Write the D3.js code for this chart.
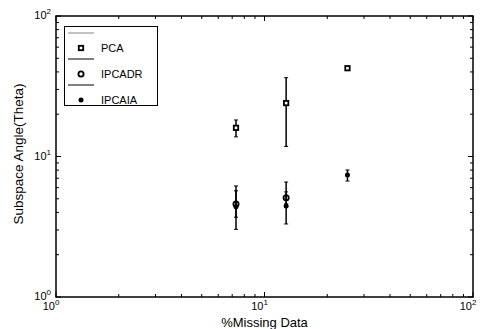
<!DOCTYPE html>
<html>
<head>
<meta charset="utf-8">
<script src="https://cdn.jsdelivr.net/npm/d3@7"></script>
<style>
body { margin: 0; background: #fff; }
text { font-family: "Liberation Sans", Arial, sans-serif; fill: #000; }
</style>
</head>
<body>
<div id="app"></div>
<script>
// data
let missing = [7.3, 12.7, 25];
let pcaMean = [16.0, 24.0, 42.5];
let pcaLow = [13.8, 11.8, 42.5];
let pcaHigh = [18.2, 36.4, 42.5];
let ipcadrMean = [4.6, 5.09];
let ipcadrLow = [3.7, 4.6];
let ipcadrHigh = [5.7, 5.6];
let ipcaiaMean = [4.39, 4.44, 7.38];
let ipcaiaLow = [3.03, 3.31, 6.69];
let ipcaiaHigh = [6.17, 6.58, 8.02];
let seriesNames = ["PCA", "IPCADR", "IPCAIA"];
let decades = [1, 10, 100];

let width = 482, height = 329;
let padL = 56, padR = 473, padT = 16, padB = 297;

let svg = d3.select("#app")
.append("svg")
    .attr("width", width)
    .attr("height", height)

let x = d3.scaleLog().domain([1, 100]).range([padL, padR]);
let y = d3.scaleLog().domain([1, 100]).range([padB, padT]);

// minor + major ticks, inward on all four sides
let minors = [];
[1, 10].forEach(function(d) { for (let k = 2; k <= 9; k++) minors.push(d * k); });
let ticks = svg.append("g").attr("stroke", "#000").attr("stroke-width", 1);
minors.concat(decades).forEach(function(v) {
    let len = decades.includes(v) ? 5 : 3;
    ticks.append("line").attr("x1", x(v)).attr("x2", x(v)).attr("y1", padB).attr("y2", padB - len);
    ticks.append("line").attr("x1", x(v)).attr("x2", x(v)).attr("y1", padT).attr("y2", padT + len);
    ticks.append("line").attr("y1", y(v)).attr("y2", y(v)).attr("x1", padL).attr("x2", padL + len);
    ticks.append("line").attr("y1", y(v)).attr("y2", y(v)).attr("x1", padR).attr("x2", padR - len);
});

svg.append("rect")
    .attr("x", padL).attr("y", padT)
    .attr("width", padR - padL).attr("height", padB - padT)
    .attr("fill", "none").attr("stroke", "#000").attr("stroke-width", 1.5)

// tick labels 10^n
function powLabel(g, px, py, n, anchor) {
    let t = g.append("text").attr("x", px).attr("y", py).attr("font-size", 11).attr("text-anchor", anchor);
    t.append("tspan").text("10");
    t.append("tspan").attr("dy", -5).attr("font-size", 8).text(n);
}
decades.forEach(function(v, i) {
    powLabel(svg, x(v) - 5, 310, i, "middle");
    powLabel(svg, padL - 5, y(v) + 3, i, "end");
});

svg.append("text")
    .attr("x", x(10)).attr("y", 327)
    .attr("text-anchor", "middle").attr("font-size", 13)
    .text("%Missing Data")
svg.append("text")
    .attr("transform", "translate(23,154) rotate(-90)")
    .attr("text-anchor", "middle").attr("font-size", 13.5)
    .text("Subspace Angle(Theta)")

// error bars
function errorBars(xs, lo, hi) {
    let g = svg.append("g").attr("stroke", "#000").attr("stroke-width", 1.5);
    xs.forEach(function(xv, i) {
        if (lo[i] === hi[i]) return;
        g.append("line").attr("x1", x(xv)).attr("x2", x(xv)).attr("y1", y(lo[i])).attr("y2", y(hi[i]));
        [lo[i], hi[i]].forEach(function(v) {
            g.append("line").attr("x1", x(xv) - 2).attr("x2", x(xv) + 2).attr("y1", y(v)).attr("y2", y(v)).attr("stroke-width", 1);
        });
    });
}
errorBars(missing, pcaLow, pcaHigh);
errorBars(missing.slice(0, 2), ipcadrLow, ipcadrHigh);
errorBars(missing, ipcaiaLow, ipcaiaHigh);

function square(g, cx, cy) {
    g.append("rect").attr("x", cx - 2.2).attr("y", cy - 2.2).attr("width", 4.4).attr("height", 4.4)
        .attr("fill", "#fff").attr("stroke", "#000").attr("stroke-width", 1.8);
}
function ring(g, cx, cy) {
    g.append("circle").attr("cx", cx).attr("cy", cy).attr("r", 2.6)
        .attr("fill", "none").attr("stroke", "#000").attr("stroke-width", 1.8);
}
function dot(g, cx, cy) {
    g.append("circle").attr("cx", cx).attr("cy", cy).attr("r", 2.5).attr("fill", "#000");
}
let marks = svg.append("g");
missing.forEach(function(xv, i) { square(marks, x(xv), y(pcaMean[i])); });
ipcadrMean.forEach(function(v, i) { ring(marks, x(missing[i]), y(v)); });
ipcaiaMean.forEach(function(v, i) { dot(marks, x(missing[i]), y(v)); });

// legend
let leg = svg.append("g");
leg.append("rect").attr("x", 64.5).attr("y", 26.5).attr("width", 93).attr("height", 79)
    .attr("fill", "#fff").attr("stroke", "#000").attr("stroke-width", 1)
let markerFns = [square, ring, dot];
seriesNames.forEach(function(name, i) {
    let ly = 33 + i * 26;
    leg.append("line").attr("x1", 68).attr("x2", 94).attr("y1", ly).attr("y2", ly)
        .attr("stroke", i === 0 ? "#888" : "#000").attr("stroke-width", 1);
    markerFns[i](leg, 81, ly + 15);
    leg.append("text").attr("x", 101).attr("y", ly + 19).attr("font-size", 11).text(name);
});
</script>
</body>
</html>
